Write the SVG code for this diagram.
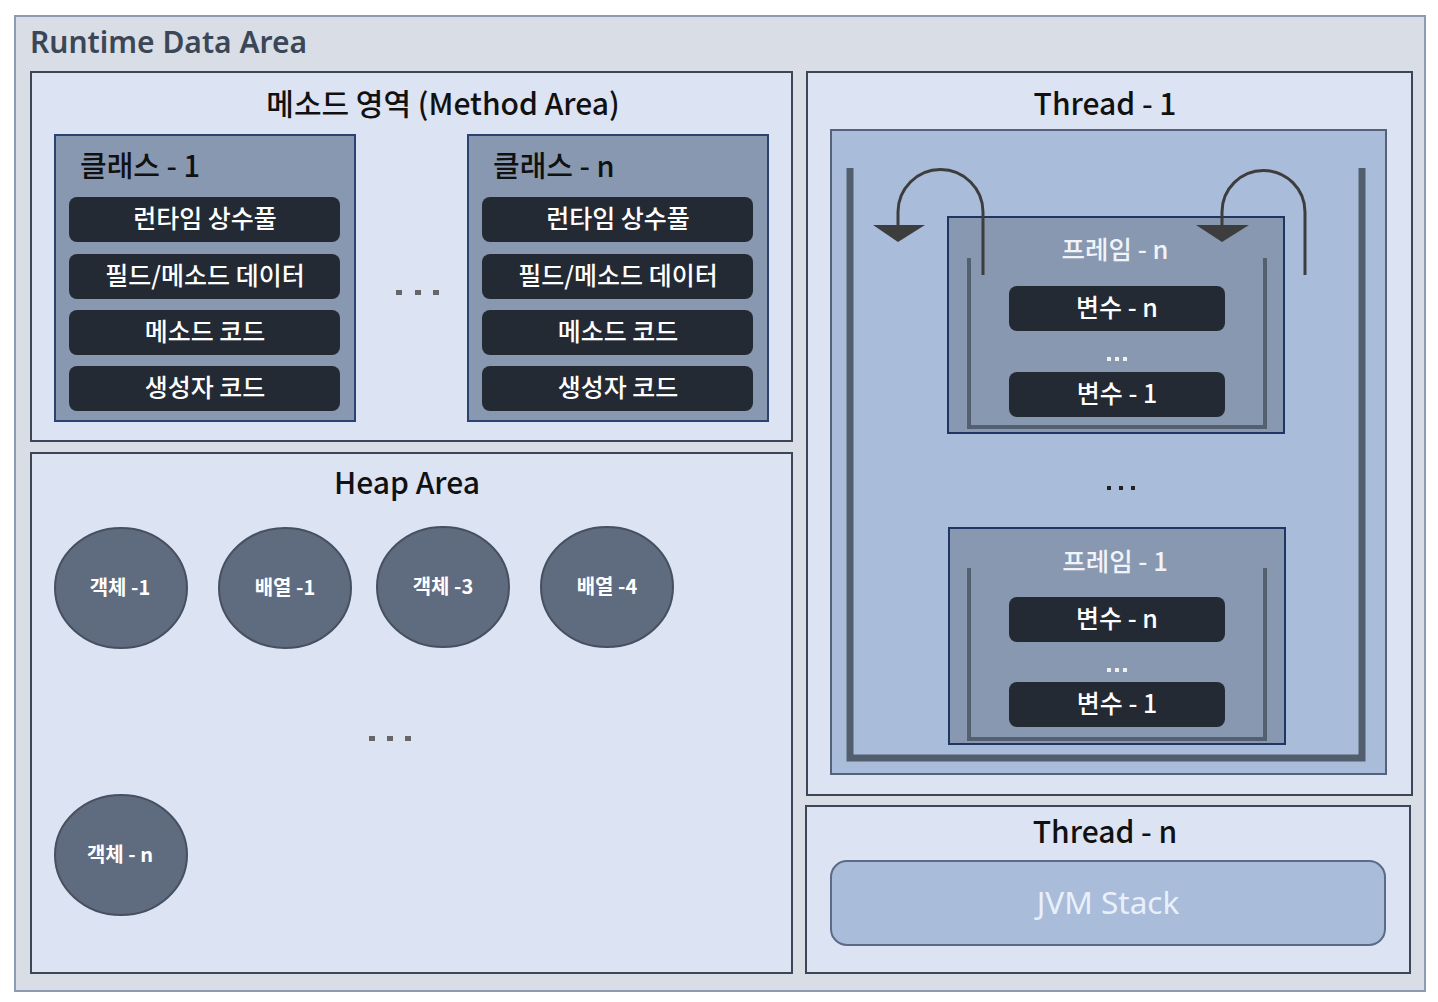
<svg xmlns="http://www.w3.org/2000/svg" width="1438" height="1002" viewBox="0 0 1438 1002">
<defs>
<style>
text{font-family:"Noto Sans CJK KR","Noto Sans",sans-serif;}
.area{fill:#dce3f2;stroke:#3c4656;stroke-width:2;}
.cls{fill:#8898b0;stroke:#2b4272;stroke-width:2;}
.item{fill:#232a34;}
.itxt{fill:#ffffff;font-size:25px;font-weight:500;text-anchor:middle;}
.vtxt{fill:#ffffff;font-size:25px;font-weight:500;text-anchor:middle;}
.title{fill:#111111;font-size:30px;font-weight:500;text-anchor:middle;}
.ctitle{fill:#111111;font-size:29px;font-weight:500;}
.obj{fill:#5f6b7e;stroke:#465060;stroke-width:2;}
.otxt{fill:#ffffff;font-size:20px;font-weight:600;text-anchor:middle;}
.frame{fill:#8898b0;stroke:#1f3563;stroke-width:2;}
.ftxt{fill:#f0f3f8;font-size:25.5px;font-weight:500;text-anchor:middle;}
.fu{fill:none;stroke:#545f70;stroke-width:4;}
.su{fill:none;stroke:#525e6e;stroke-width:7;}
.arr{fill:none;stroke:#3d3d3d;stroke-width:3;}
.head{fill:#3d3d3d;}
.dot{fill:#666666;}
.wdot{fill:#f0f0f0;}
.kdot{fill:#222222;}
</style>
</defs>

<g id="runtime-data-area">
<rect x="15" y="16" width="1410" height="975" fill="#d8dde6" stroke="#8d9bb0" stroke-width="2"/>
<text x="30" y="53" font-size="30" font-weight="600" fill="#3b4757" style="font-family:'Noto Sans','Noto Sans CJK KR',sans-serif">Runtime Data Area</text>
</g>

<g id="method-area">
<rect class="area" x="31" y="72" width="761" height="369"/>
<text class="title" x="443" y="115">메소드 영역 (Method Area)</text>
<g class="dot">
<rect x="396" y="290" width="6" height="5"/>
<rect x="415" y="290" width="6" height="5"/>
<rect x="433" y="290" width="6" height="5"/>
</g>
</g>

<g id="class-1">
<rect class="cls" x="55" y="135" width="300" height="286"/>
<text class="ctitle" x="80" y="177">클래스 - 1</text>
<rect class="item" x="69" y="197" width="271" height="45" rx="8"/>
<text class="itxt" x="205" y="228">런타임 상수풀</text>
<rect class="item" x="69" y="254" width="271" height="45" rx="8"/>
<text class="itxt" x="205" y="285">필드/메소드 데이터</text>
<rect class="item" x="69" y="310" width="271" height="45" rx="8"/>
<text class="itxt" x="205" y="341">메소드 코드</text>
<rect class="item" x="69" y="366" width="271" height="45" rx="8"/>
<text class="itxt" x="205" y="397">생성자 코드</text>
</g>

<g id="class-n">
<rect class="cls" x="468" y="135" width="300" height="286"/>
<text class="ctitle" x="493" y="177">클래스 - n</text>
<rect class="item" x="482" y="197" width="271" height="45" rx="8"/>
<text class="itxt" x="618" y="228">런타임 상수풀</text>
<rect class="item" x="482" y="254" width="271" height="45" rx="8"/>
<text class="itxt" x="618" y="285">필드/메소드 데이터</text>
<rect class="item" x="482" y="310" width="271" height="45" rx="8"/>
<text class="itxt" x="618" y="341">메소드 코드</text>
<rect class="item" x="482" y="366" width="271" height="45" rx="8"/>
<text class="itxt" x="618" y="397">생성자 코드</text>
</g>

<g id="heap-area">
<rect class="area" x="31" y="453" width="761" height="520"/>
<text class="title" x="407" y="494">Heap Area</text>
<g class="dot">
<rect x="369" y="736" width="6" height="5"/>
<rect x="387" y="736" width="6" height="5"/>
<rect x="405" y="736" width="6" height="5"/>
</g>
</g>

<g id="obj-1">
<ellipse class="obj" cx="121" cy="588" rx="66" ry="60"/>
<text class="otxt" x="120" y="595">객체 -1</text>
</g>
<g id="arr-1">
<ellipse class="obj" cx="285" cy="588" rx="66" ry="60"/>
<text class="otxt" x="285" y="595">배열 -1</text>
</g>
<g id="obj-3">
<ellipse class="obj" cx="443" cy="587" rx="66" ry="60"/>
<text class="otxt" x="443" y="594">객체 -3</text>
</g>
<g id="arr-4">
<ellipse class="obj" cx="607" cy="587" rx="66" ry="60"/>
<text class="otxt" x="607" y="594">배열 -4</text>
</g>
<g id="obj-n">
<ellipse class="obj" cx="121" cy="855" rx="66" ry="60"/>
<text class="otxt" x="120" y="862">객체 - n</text>
</g>

<g id="thread-1">
<rect class="area" x="807" y="72" width="605" height="723"/>
<text class="title" x="1105" y="115">Thread - 1</text>
<rect x="831" y="130" width="555" height="644" fill="#a9bcda" stroke="#55637a" stroke-width="2"/>
<path class="su" d="M850,168 L850,758 L1362,758 L1362,168"/>
<g class="kdot">
<rect x="1107" y="486" width="4" height="4"/>
<rect x="1119" y="486" width="4" height="4"/>
<rect x="1131" y="486" width="4" height="4"/>
</g>
</g>

<g id="frame-n">
<rect class="frame" x="948" y="217" width="336" height="216"/>
<path class="fu" d="M969,258 L969,427 L1265,427 L1265,258"/>
<text class="ftxt" x="1115" y="259">프레임 - n</text>
<rect class="item" x="1009" y="286" width="216" height="45" rx="8"/>
<text class="vtxt" x="1117" y="317">변수 - n</text>
<g class="wdot">
<rect x="1107" y="357" width="4" height="4"/>
<rect x="1115" y="357" width="4" height="4"/>
<rect x="1123" y="357" width="4" height="4"/>
</g>
<rect class="item" x="1009" y="372" width="216" height="45" rx="8"/>
<text class="vtxt" x="1117" y="403">변수 - 1</text>
</g>

<g id="frame-1">
<rect class="frame" x="949" y="528" width="336" height="216"/>
<path class="fu" d="M969,568 L969,739 L1265,739 L1265,568"/>
<text class="ftxt" x="1115" y="571">프레임 - 1</text>
<rect class="item" x="1009" y="597" width="216" height="45" rx="8"/>
<text class="vtxt" x="1117" y="628">변수 - n</text>
<g class="wdot">
<rect x="1107" y="668" width="4" height="4"/>
<rect x="1115" y="668" width="4" height="4"/>
<rect x="1123" y="668" width="4" height="4"/>
</g>
<rect class="item" x="1009" y="682" width="216" height="45" rx="8"/>
<text class="vtxt" x="1117" y="713">변수 - 1</text>
</g>

<g id="thread-n">
<rect class="area" x="806" y="806" width="604" height="167"/>
<text class="title" x="1105" y="843">Thread - n</text>
<rect x="831" y="861" width="554" height="84" rx="16" fill="#a9bcda" stroke="#5b6b87" stroke-width="2"/>
<text x="1108" y="914" font-size="31.5" fill="#eaf0fa" text-anchor="middle" style="font-family:'Noto Sans','Noto Sans CJK KR',sans-serif">JVM Stack</text>
</g>

<g id="connectors">
<path class="arr" d="M983,275 L983,212 A42.5,42.5 0 0 0 898,212 L898,226"/>
<polygon class="head" points="873,225 925,225 898,242"/>
<path class="arr" d="M1305,275 L1305,212 A41.5,41.5 0 0 0 1222,212 L1222,226"/>
<polygon class="head" points="1196,225 1249,225 1222,242"/>
</g>
</svg>
